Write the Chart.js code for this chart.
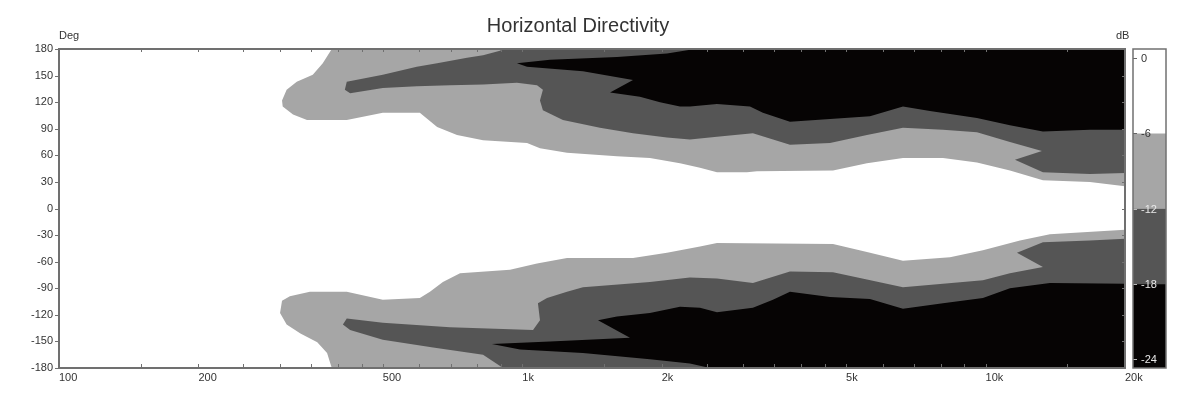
<!DOCTYPE html>
<html>
<head>
<meta charset="utf-8">
<script src="https://cdn.jsdelivr.net/npm/chart.js@4.4.1/dist/chart.umd.min.js"></script>
<style>
html,body{margin:0;padding:0;background:#fff;}
#wrap{position:relative;width:1200px;height:400px;overflow:hidden;background:#fff;}
#main{position:absolute;left:0;top:0;}
#cbar{position:absolute;left:1100px;top:0;}
</style>
</head>
<body>
<div id="wrap">
<canvas id="main" width="1156" height="400"></canvas>
<canvas id="cbar" width="100" height="400"></canvas>
</div>
<script>
// ---------- DATA (frequency in Hz, angle in degrees) ----------
const chartTitle = 'Horizontal Directivity';
const yAxisName = 'Deg';
const levelName = 'dB';

// -6 dB contour region (light gray), upper half
const upperLight = [[388,180],[371,164],[353,151],[326,143],[310,134],[303,122],[304,115],[320,106],[343,100],[418,100],[500,108],[601,108],[655,92],[723,83],[823,77],[1024,74],[1092,68],[1249,63],[1601,59],[1886,57],[2190,51],[2419,46],[2632,41],[3055,41],[3210,42],[4685,43],[5546,51],[6634,57],[8094,57],[9583,52],[11290,43],[13300,32],[16800,30],[20000,25],[20000,180]];
// -12 dB region (dark gray), upper half
const upperDark = [[418,143],[500,151],[592,160],[655,164],[760,170],[823,173],[895,178],[909,180],[20000,180],[20000,40],[16800,39],[13300,41],[11574,55],[13234,65],[11290,75],[9583,86],[8094,89],[6634,91],[5546,83],[4616,74],[3783,72],[3147,85],[2632,81],[2301,78],[2053,80],[1734,85],[1471,91],[1224,100],[1108,111],[1092,122],[1108,134],[1076,139],[974,142],[823,140],[698,139],[592,138],[500,136],[425,130],[414,134]];
// -18 dB region (black), upper half
const upperBlack = [[974,164],[1148,168],[1601,171],[2053,175],[2359,180],[20000,180],[20000,89],[16800,89],[13300,87],[11290,94],[9583,102],[7586,110],[6634,115],[5630,104],[4616,101],[3783,98],[3307,108],[3101,115],[2632,118],[2301,115],[2190,115],[1983,120],[1795,126],[1547,131],[1734,145],[1352,155],[1024,160]];

// lower half
const lowerLight = [[300,-118],[303,-104],[315,-99],[348,-94],[418,-94],[500,-103],[601,-101],[632,-94],[674,-83],[734,-73],[941,-69],[1076,-62],[1249,-56],[1734,-56],[2053,-50],[2419,-43],[2632,-39],[4685,-40],[5546,-49],[6634,-59],[8380,-55],[9872,-47],[11866,-36],[13772,-29],[20000,-24],[20000,-180],[388,-180],[379,-163],[361,-151],[332,-141],[310,-131]];
const lowerDark = [[418,-124],[500,-129],[698,-134],[1055,-137],[1092,-126],[1081,-107],[1131,-101],[1249,-94],[1352,-89],[1886,-83],[2300,-78],[2632,-79],[3147,-84],[3783,-71],[4685,-72],[5546,-80],[6634,-89],[9872,-81],[11290,-73],[13300,-66],[11690,-50],[13300,-38],[16800,-36],[20000,-34],[20000,-180],[909,-180],[823,-165],[642,-157],[500,-148],[425,-137],[410,-131]];
const lowerBlack = [[860,-153],[1148,-150],[1708,-146],[1457,-126],[1601,-122],[1886,-118],[2190,-111],[2419,-112],[2632,-117],[3147,-112],[3476,-103],[3783,-94],[4616,-100],[5630,-102],[6634,-113],[8094,-107],[9872,-101],[11290,-90],[13772,-84],[20000,-85],[20000,-180],[2542,-180],[2301,-175],[1886,-170],[1352,-163],[989,-159]];

// axes
const xTickValues = [100,150,200,250,300,350,400,450,500,600,700,800,900,1000,1500,2000,2500,3000,3500,4000,4500,5000,6000,7000,8000,9000,10000,15000,20000];
const xTickLabels = {100:'100',200:'200',500:'500',1000:'1k',2000:'2k',5000:'5k',10000:'10k',20000:'20k'};
const yTickValues = [180,150,120,90,60,30,0,-30,-60,-90,-120,-150,-180];
// colour scale
const dbLevels = [0,-6,-12,-18,-24];
const bandColors = ['#ffffff','#a6a6a6','#555555','#060404'];

// ---------- CHART ----------
const FONT = "'Liberation Sans', Arial, sans-serif";
Chart.defaults.font.family = FONT;
Chart.defaults.font.size = 11;
Chart.defaults.color = '#333';

const toPts = arr => arr.map(([f, d]) => ({x: f, y: d}));
const region = (arr, color) => ({
  data: toPts(arr), fill: 'shape', backgroundColor: color,
  borderColor: 'rgba(0,0,0,0)', borderWidth: 0, pointRadius: 0, tension: 0
});

const framePlugin = {
  id: 'frame',
  afterDatasetsDraw(chart) {
    const {ctx, chartArea: a, scales: {x, y}} = chart;
    ctx.save();
    ctx.strokeStyle = '#707070';
    ctx.lineWidth = 1;
    ctx.beginPath();
    xTickValues.forEach(v => {
      const p = Math.round(x.getPixelForValue(v)) + 0.5;
      ctx.moveTo(p, a.bottom); ctx.lineTo(p, a.bottom - 4);
      ctx.moveTo(p, a.top); ctx.lineTo(p, a.top + 3);
    });
    yTickValues.forEach(v => {
      const p = Math.round(y.getPixelForValue(v)) + 0.5;
      ctx.moveTo(a.left - 4, p); ctx.lineTo(a.left, p);
      ctx.moveTo(a.right, p); ctx.lineTo(a.right - 3, p);
    });
    ctx.stroke();
    ctx.lineWidth = 2;
    ctx.strokeRect(a.left, a.top, a.right - a.left, a.bottom - a.top);
    ctx.fillStyle = '#333';
    ctx.font = '11px ' + FONT;
    ctx.textBaseline = 'middle';
    ctx.textAlign = 'left';
    ctx.fillText(yAxisName, a.left, 36);
    ctx.fillText(levelName, 1116, 36);
    ctx.restore();
  }
};

new Chart(document.getElementById('main'), {
  type: 'line',
  data: {
    datasets: [
      region(upperBlack, bandColors[3]),
      region(lowerBlack, bandColors[3]),
      region(upperDark, bandColors[2]),
      region(lowerDark, bandColors[2]),
      region(upperLight, bandColors[1]),
      region(lowerLight, bandColors[1])
    ]
  },
  options: {
    responsive: false,
    animation: false,
    events: [],
    layout: {padding: 0},
    plugins: {
      legend: {display: false},
      tooltip: {enabled: false},
      title: {
        display: true, text: chartTitle, color: '#333',
        font: {size: 20, weight: 'normal', family: FONT},
        padding: {top: 14, bottom: 11}
      }
    },
    scales: {
      x: {
        type: 'logarithmic', min: 100, max: 20000,
        grid: {display: false, drawTicks: false}, border: {display: false},
        afterBuildTicks: s => { s.ticks = xTickValues.map(v => ({value: v})); },
        afterFit: s => { s.height = 32; },
        ticks: {
          autoSkip: false, maxRotation: 0, align: 'start', padding: 3, color: '#333',
          callback: v => xTickLabels[v] ?? ''
        }
      },
      y: {
        type: 'linear', min: -180, max: 180,
        grid: {display: false, drawTicks: false}, border: {display: false},
        afterBuildTicks: s => { s.ticks = yTickValues.map(v => ({value: v})); },
        afterFit: s => { s.width = 59; },
        ticks: {padding: 6, color: '#333'}
      },
      yR: {
        type: 'linear', position: 'right', display: true,
        grid: {display: false, drawTicks: false}, border: {display: false},
        ticks: {display: false},
        afterFit: s => { s.width = 31; }
      }
    }
  },
  plugins: [framePlugin]
});

// ---------- COLOUR BAR ----------
const cbMax = 0.7, cbMin = -24.7;
const bands = dbLevels.slice(0, -1).map((hi, i) => [
  i === dbLevels.length - 2 ? cbMin : dbLevels[i + 1],
  i === 0 ? cbMax : hi
]);

const cbFrame = {
  id: 'cbFrame',
  afterDraw(chart) {
    const {ctx, chartArea: a, scales: {y}} = chart;
    ctx.save();
    ctx.lineWidth = 1;
    ctx.font = '11px ' + FONT;
    ctx.textBaseline = 'middle';
    ctx.textAlign = 'left';
    dbLevels.forEach(v => {
      const p = Math.round(y.getPixelForValue(v)) + 0.5;
      const light = v <= -12;
      ctx.strokeStyle = light ? '#bbbbbb' : '#666666';
      ctx.beginPath();
      ctx.moveTo(a.left, p); ctx.lineTo(a.left + 4, p);
      ctx.stroke();
      ctx.fillStyle = light ? '#e8e8e8' : '#333333';
      ctx.fillText(String(v), a.left + 8, p);
    });
    ctx.strokeStyle = '#707070';
    ctx.lineWidth = 1.5;
    ctx.strokeRect(a.left, a.top, a.right - a.left, a.bottom - a.top);
    ctx.restore();
  }
};

new Chart(document.getElementById('cbar'), {
  type: 'bar',
  data: {
    labels: [''],
    datasets: bands.map((b, i) => ({
      data: [b], backgroundColor: bandColors[i], borderWidth: 0,
      barPercentage: 1, categoryPercentage: 1, grouped: false
    }))
  },
  options: {
    responsive: false,
    animation: false,
    events: [],
    layout: {padding: {left: 33, right: 34, top: 49, bottom: 32}},
    plugins: {legend: {display: false}, tooltip: {enabled: false}, title: {display: false}},
    scales: {
      x: {display: false},
      y: {min: cbMin, max: cbMax, display: false}
    }
  },
  plugins: [cbFrame]
});
</script>
</body>
</html>
